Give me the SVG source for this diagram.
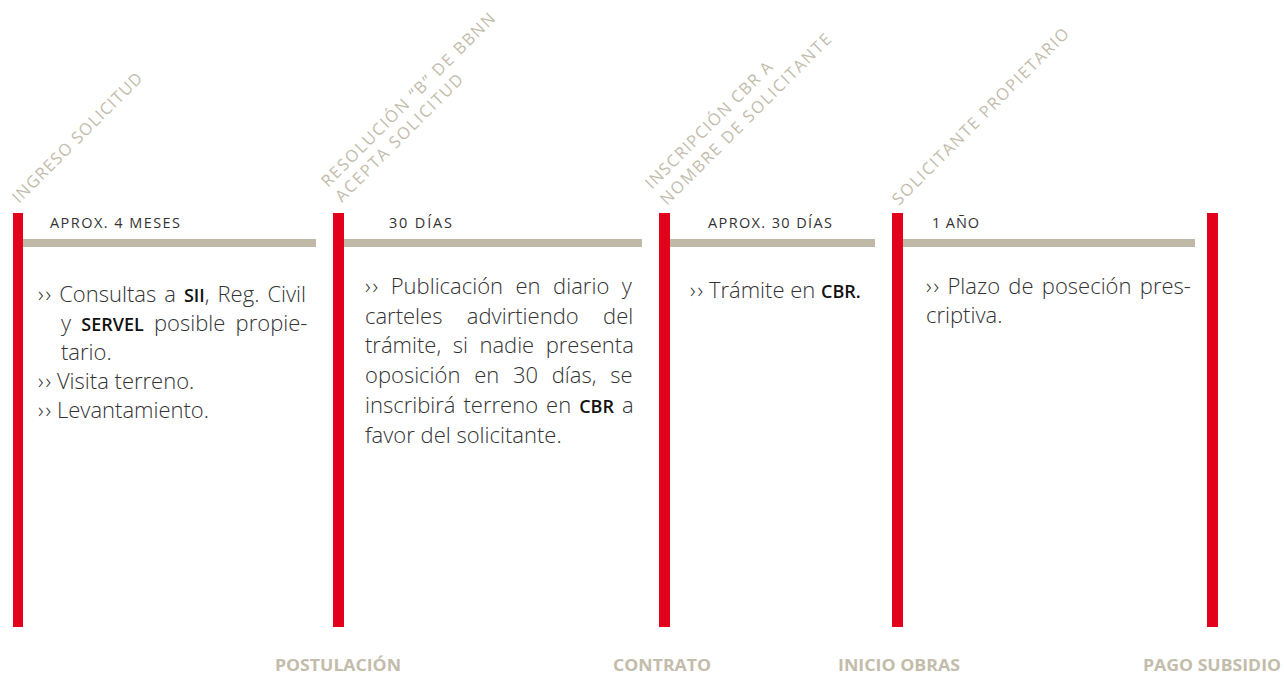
<svg xmlns="http://www.w3.org/2000/svg" width="1284" height="675" viewBox="0 0 1284 675">
<style>
.bar{fill:#e2001a}
.line{fill:#c0b9a8}
.diag{font-family:"Open Sans",Lato,sans-serif;font-size:16.5px;fill:#c3bcab}
.dur{font-family:"Open Sans",Lato,sans-serif;font-size:14.5px;fill:#333}
.body{font-family:"Open Sans",Lato,sans-serif;font-weight:300;font-size:22px;fill:#333}
.b{font-weight:600;font-size:18px;fill:#111}
.foot{font-family:"Open Sans",Lato,sans-serif;font-weight:700;font-size:16px;fill:#c3bcab}
</style>
<rect width="1284" height="675" fill="#fff"/>
<g id="connectors">
<rect class="line" x="23" y="239" width="293" height="8"/>
<rect class="line" x="344" y="239" width="298" height="8"/>
<rect class="line" x="670" y="239" width="205" height="8"/>
<rect class="line" x="903" y="239" width="292" height="8"/>
</g>
<g id="milestone-ingreso">
<rect class="bar" x="13" y="213" width="10" height="414"/>
<text class="diag" transform="translate(19,204) rotate(-45)" textLength="176">INGRESO SOLICITUD</text>
</g>
<g id="milestone-resolucion">
<rect class="bar" x="333" y="213" width="11" height="414"/>
<text class="diag" transform="translate(328,188) rotate(-45)" textLength="238">RESOLUCIÓN “B” DE BBNN</text>
<text class="diag" transform="translate(342,203) rotate(-45)" textLength="173">ACEPTA SOLICITUD</text>
</g>
<g id="milestone-inscripcion">
<rect class="bar" x="659" y="213" width="11" height="414"/>
<text class="diag" transform="translate(652,190) rotate(-45)" textLength="172">INSCRIPCIÓN CBR A</text>
<text class="diag" transform="translate(667,206) rotate(-45)" textLength="234">NOMBRE DE SOLICITANTE</text>
</g>
<g id="milestone-propietario">
<rect class="bar" x="892" y="213" width="11" height="414"/>
<text class="diag" transform="translate(899,206) rotate(-45)" textLength="242">SOLICITANTE PROPIETARIO</text>
</g>
<g id="milestone-final">
<rect class="bar" x="1207" y="213" width="11" height="414"/>
</g>
<g id="phase-1">
<text class="dur" x="50" y="228" textLength="130">APROX. 4 MESES</text>
<text class="body"><tspan x="38" y="302" word-spacing="2.3">›<tspan dx="2">›</tspan> Consultas a <tspan class="b">SII</tspan>, Reg. Civil</tspan><tspan x="61" y="331" word-spacing="4.5">y <tspan class="b">SERVEL</tspan> posible propie-</tspan><tspan x="61" y="360">tario.</tspan><tspan x="38" y="389">›<tspan dx="2">›</tspan> Visita terreno.</tspan><tspan x="38" y="418">›<tspan dx="2">›</tspan> Levantamiento.</tspan></text>
</g>
<g id="phase-2">
<text class="dur" x="389" y="228" textLength="63">30 DÍAS</text>
<text class="body"><tspan x="365" y="294" word-spacing="6.8">›<tspan dx="2">›</tspan> Publicación en diario y</tspan><tspan x="365" y="324" word-spacing="18.7">carteles advirtiendo del</tspan><tspan x="365" y="353" word-spacing="5.8">trámite, si nadie presenta</tspan><tspan x="365" y="383" word-spacing="8">oposición en 30 días, se</tspan><tspan x="365" y="413" word-spacing="2.3">inscribirá terreno en <tspan class="b">CBR</tspan> a</tspan><tspan x="365" y="443">favor del solicitante.</tspan></text>
</g>
<g id="phase-3">
<text class="dur" x="708" y="228" textLength="124">APROX. 30 DÍAS</text>
<text class="body" x="690" y="298">›<tspan dx="2">›</tspan> Trámite en <tspan class="b">CBR.</tspan></text>
</g>
<g id="phase-4">
<text class="dur" x="932" y="228" textLength="47">1 AÑO</text>
<text class="body"><tspan x="926" y="294" word-spacing="2.6">›<tspan dx="2">›</tspan> Plazo de poseción pres-</tspan><tspan x="926" y="323">criptiva.</tspan></text>
</g>
<g id="footer">
<text class="foot" x="338" y="671" text-anchor="middle" textLength="126" lengthAdjust="spacingAndGlyphs">POSTULACIÓN</text>
<text class="foot" x="662" y="671" text-anchor="middle" textLength="98" lengthAdjust="spacingAndGlyphs">CONTRATO</text>
<text class="foot" x="899" y="671" text-anchor="middle" textLength="122" lengthAdjust="spacingAndGlyphs">INICIO OBRAS</text>
<text class="foot" x="1212" y="671" text-anchor="middle" textLength="138" lengthAdjust="spacingAndGlyphs">PAGO SUBSIDIO</text>
</g>
</svg>
